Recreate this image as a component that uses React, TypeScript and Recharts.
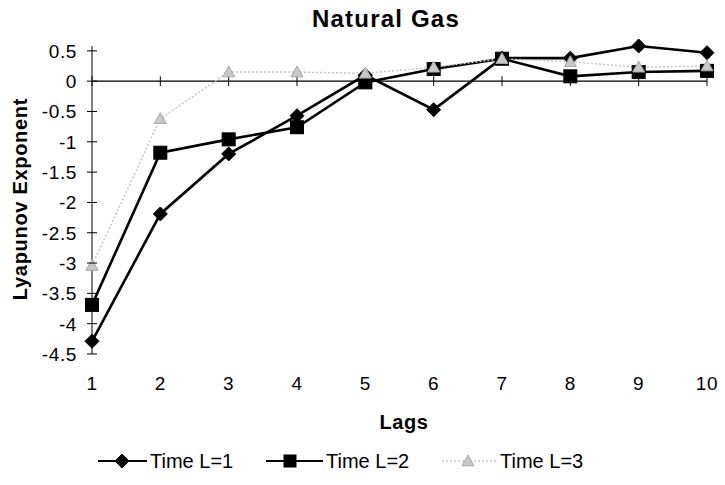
import React from 'react';
import { LineChart, Line, XAxis, YAxis, ReferenceLine, Legend } from 'recharts';

const lags = [1, 2, 3, 4, 5, 6, 7, 8, 9, 10];
const timeL1 = [-4.29, -2.19, -1.2, -0.57, 0.1, -0.47, 0.38, 0.38, 0.58, 0.47];
const timeL2 = [-3.69, -1.18, -0.96, -0.76, -0.02, 0.2, 0.37, 0.08, 0.15, 0.17];
const timeL3 = [-3.04, -0.62, 0.15, 0.15, 0.13, 0.23, 0.37, 0.32, 0.23, 0.25];
const yTicks = [0.5, 0, -0.5, -1, -1.5, -2, -2.5, -3, -3.5, -4, -4.5];
const seriesNames = ['Time L=1', 'Time L=2', 'Time L=3'];
const titleText = 'Natural Gas';
const xTitle = 'Lags';
const yTitle = 'Lyapunov Exponent';

const data = lags.map((lag, i) => ({ lag, l1: timeL1[i], l2: timeL2[i], l3: timeL3[i] }));

const FONT = '"Liberation Sans", Arial, sans-serif';
const GRAY = '#c4c4c4';

const Diamond = (p: any) => {
  const { cx, cy, size = 7 } = p;
  if (cx == null || cy == null) return null;
  return <polygon points={`${cx},${cy - size} ${cx + size},${cy} ${cx},${cy + size} ${cx - size},${cy}`} fill="#000" stroke="#000" />;
};
const Square = (p: any) => {
  const { cx, cy, size = 6.5 } = p;
  if (cx == null || cy == null) return null;
  return <rect x={cx - size} y={cy - size} width={size * 2} height={size * 2} fill="#000" stroke="#000" />;
};
const Triangle = (p: any) => {
  const { cx, cy, size = 6 } = p;
  if (cx == null || cy == null) return null;
  return <polygon points={`${cx},${cy - size} ${cx + size},${cy + size * 0.8} ${cx - size},${cy + size * 0.8}`} fill="#c8c8c8" stroke="#a8a8a8" strokeWidth={1} />;
};

const YTick = (p: any) => {
  const { x, y, payload } = p;
  return (
    <g>
      <line x1={x - 5} x2={x + 5} y1={y} y2={y} stroke="#000" strokeWidth={1} />
      <text x={x - 15} y={y} dy="0.36em" textAnchor="end" fontSize={19} letterSpacing={0.6} fontFamily={FONT} fill="#000">
        {String(payload.value)}
      </text>
    </g>
  );
};

const XTick = (p: any) => {
  const { x, y, payload } = p;
  return (
    <text x={x} y={y + 36} textAnchor="middle" fontSize={19} letterSpacing={0.6} fontFamily={FONT} fill="#000">
      {String(payload.value)}
    </text>
  );
};

const legendItems = [
  { name: seriesNames[0], lineX: 98, markX: 122, textX: 150, kind: 'd' },
  { name: seriesNames[1], lineX: 266, markX: 290, textX: 326, kind: 's' },
  { name: seriesNames[2], lineX: 442, markX: 468, textX: 500, kind: 't' },
];

const LegendContent = () => (
  <svg width={725} height={30} style={{ display: 'block' }}>
    {legendItems.map((it) => {
      const cy = 12;
      const end = it.textX - 3;
      return (
        <g key={it.name}>
          {it.kind === 't' ? (
            <line x1={it.lineX} x2={end} y1={cy} y2={cy} stroke={GRAY} strokeWidth={1.5} strokeDasharray="2 2" />
          ) : (
            <line x1={it.lineX} x2={end} y1={cy} y2={cy} stroke="#000" strokeWidth={2} />
          )}
          {it.kind === 'd' && <Diamond cx={it.markX} cy={cy} size={7} />}
          {it.kind === 's' && <Square cx={it.markX} cy={cy} size={6} />}
          {it.kind === 't' && <Triangle cx={it.markX} cy={cy} size={6} />}
          <text x={it.textX} y={cy} dy="0.36em" fontSize={20} fontFamily={FONT} fill="#000">
            {it.name}
          </text>
        </g>
      );
    })}
  </svg>
);

export default function App() {
  return (
    <div style={{ position: 'absolute', left: 0, top: 0, width: 725, height: 485, background: '#fff' }}>
      <LineChart width={725} height={485} data={data} margin={{ top: 46, right: 18, bottom: 101, left: 0 }}>
        <XAxis
          dataKey="lag"
          type="number"
          domain={[1, 10]}
          ticks={lags}
          interval={0}
          axisLine={false}
          tickLine={false}
          tickSize={0}
          tickMargin={0}
          height={30}
          tick={<XTick />}
        />
        <YAxis
          type="number"
          domain={[-4.5, 0.5]}
          ticks={yTicks}
          interval={0}
          width={92}
          axisLine={{ stroke: '#000', strokeWidth: 1 }}
          tickLine={false}
          tickSize={0}
          tickMargin={0}
          tick={<YTick />}
        />
        <ReferenceLine y={0} stroke="#000" strokeWidth={1.2} />
        {lags.map((lag) => (
          <ReferenceLine
            key={`zt${lag}`}
            segment={[{ x: lag, y: -0.08 }, { x: lag, y: 0.08 }]}
            stroke="#000"
            strokeWidth={1}
          />
        ))}
        <Line dataKey="l1" name={seriesNames[0]} stroke="#000" strokeWidth={2.6} dot={<Diamond />} activeDot={false} isAnimationActive={false} />
        <Line dataKey="l2" name={seriesNames[1]} stroke="#000" strokeWidth={2.6} dot={<Square />} activeDot={false} isAnimationActive={false} />
        <Line dataKey="l3" name={seriesNames[2]} stroke={GRAY} strokeWidth={1.4} strokeDasharray="2 2" dot={<Triangle />} activeDot={false} isAnimationActive={false} />
        <Legend
          layout="horizontal"
          verticalAlign="middle"
          align="center"
          content={<LegendContent />}
          wrapperStyle={{ position: 'absolute', left: 0, top: 449, width: 725, height: 30 }}
        />
      </LineChart>
      <div style={{ position: 'absolute', left: 186, width: 400, top: 6, textAlign: 'center', fontFamily: FONT, fontWeight: 'bold', fontSize: 24, letterSpacing: 1.2, lineHeight: '26px' }}>
        {titleText}
      </div>
      <div style={{ position: 'absolute', left: 304, width: 200, top: 410, textAlign: 'center', fontFamily: FONT, fontWeight: 'bold', fontSize: 20, letterSpacing: 0.6, lineHeight: '24px' }}>
        {xTitle}
      </div>
      <div
        style={{
          position: 'absolute',
          left: 20,
          top: 199,
          width: 280,
          marginLeft: -140,
          marginTop: -12,
          textAlign: 'center',
          transform: 'rotate(-90deg)',
          fontFamily: FONT,
          fontWeight: 'bold',
          fontSize: 20,
          letterSpacing: 0.7,
          lineHeight: '24px',
        }}
      >
        {yTitle}
      </div>
    </div>
  );
}
